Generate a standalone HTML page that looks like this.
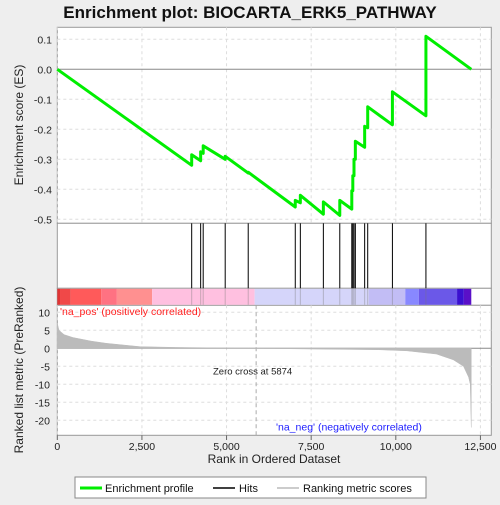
<!DOCTYPE html>
<html><head><meta charset="utf-8"><style>
body{margin:0;background:#eeeeee;font-family:"Liberation Sans",sans-serif}
svg text{font-family:"Liberation Sans",sans-serif}
</style></head><body>
<svg id="c" width="500" height="500" xmlns="http://www.w3.org/2000/svg">
<rect x="0" y="0" width="500" height="500" fill="#eeeeee"/>
<text x="250" y="18" font-size="17" font-weight="bold" text-anchor="middle" fill="#111">Enrichment plot: BIOCARTA_ERK5_PATHWAY</text>
<rect x="57.3" y="27.3" width="434" height="196" fill="#fff" stroke="#999"/>
<rect x="57.3" y="223.3" width="434" height="65" fill="#fff" stroke="#999"/>
<rect x="57.3" y="288.3" width="434" height="17" fill="#fff" stroke="#999"/>
<rect x="57.3" y="305.3" width="434" height="130" fill="#fff" stroke="#999"/>
<g id="grid"></g><g id="band"></g><g id="metric"></g><g id="hits"></g><g id="es"></g><g id="axes"></g>
<text x="60" y="315" font-size="10.5" fill="#ff2020">'na_pos' (positively correlated)</text>
<text x="276" y="430.5" font-size="10.5" fill="#2020ff">'na_neg' (negatively correlated)</text>
<text x="213" y="374.5" font-size="9.5" fill="#222">Zero cross at 5874</text>
<text x="274" y="463" font-size="12" text-anchor="middle" fill="#222">Rank in Ordered Dataset</text>
<text transform="translate(23,125) rotate(-90)" font-size="12" text-anchor="middle" fill="#222">Enrichment score (ES)</text>
<text transform="translate(23,370) rotate(-90)" font-size="12" text-anchor="middle" fill="#222">Ranked list metric (PreRanked)</text>
<g>
<rect x="75" y="477" width="351" height="21" fill="#fff" stroke="#888"/>
<line x1="80" y1="488" x2="102" y2="488" stroke="#00ee00" stroke-width="3"/>
<text x="105" y="492" font-size="11" fill="#111">Enrichment profile</text>
<line x1="213" y1="488" x2="235" y2="488" stroke="#000" stroke-width="1.5"/>
<text x="239" y="492" font-size="11" fill="#111">Hits</text>
<line x1="277" y1="488" x2="299" y2="488" stroke="#bbb" stroke-width="1.5"/>
<text x="303" y="492" font-size="11" fill="#111">Ranking metric scores</text>
</g>
</svg>
<script>
const hitRanks=[3970,4235,4310,4960,5640,7030,7180,7860,8345,8700,8730,8765,8805,9080,9170,9900,10890];
const esBefore=[-0.32,-0.305,-0.28,-0.30,-0.346,-0.459,-0.445,-0.483,-0.487,-0.466,-0.405,-0.355,-0.30,-0.26,-0.195,-0.185,-0.155];
const esAfter=[-0.285,-0.275,-0.255,-0.29,-0.343,-0.437,-0.42,-0.442,-0.437,-0.405,-0.355,-0.30,-0.24,-0.19,-0.125,-0.075,0.11];
const totalRanks=12230;
const metricRanks=[0,50,200,460,1000,1440,2450,3500,5874,7500,9500,10330,11200,11700,12000,12150,12200,12229];
const metricValues=[7,5,3.8,3,2,1.4,0.45,0.25,0,-0.2,-0.4,-0.7,-1.6,-3.2,-5,-8,-10,-22];
const xTicks=[0,2500,5000,7500,10000,12500];
const esTicks=[0.1,0.0,-0.1,-0.2,-0.3,-0.4,-0.5];
const metricTicks=[10,5,0,-5,-10,-15,-20];
const bandRanks=[0,80,400,1300,1760,2800,5830,9200,10280,10680,11810,12010,12230];
const bandColors=["#e03535","#f04848","#ff5a5a","#ff7282","#ff9090","#ffc0e0","#d5d5fa","#c2bdf5","#8888ff","#6b58e8","#3a10d0","#5a10c8"];
const X=r=>57.3+r*0.03385, YE=v=>69.3-v*300, YM=v=>348.3-v*3.6;
const NS="http://www.w3.org/2000/svg";
function mk(p,t,a){const e=document.createElementNS(NS,t);for(const k in a)e.setAttribute(k,a[k]);document.getElementById(p).appendChild(e);return e;}
xTicks.forEach(t=>{const x=X(t);
 let g=mk('grid','line',{x1:x,x2:x,y1:27.3,y2:223.3,stroke:'#ddd','stroke-dasharray':'3,3'});
 
 g=mk('grid','line',{x1:x,x2:x,y1:305.3,y2:435.3,stroke:'#ddd','stroke-dasharray':'3,3'});
 
 const tk=mk('axes','line',{x1:x,x2:x,y1:435.3,y2:440,stroke:'#666'});
 
 const tl=mk('axes','text',{x:x,y:450,'font-size':'10.5','text-anchor':'middle',fill:'#222'});tl.textContent=t.toLocaleString('en-US');
 });
esTicks.forEach(t=>{const y=YE(t);
 const g=mk('grid','line',{x1:57.3,x2:491.3,y1:y,y2:y,stroke:t===0?'#888':'#ddd','stroke-dasharray':t===0?'':'3,3'});
 
 const tl=mk('axes','text',{x:52,y:y+4,'font-size':'10.5','text-anchor':'end',fill:'#222'});tl.textContent=t.toFixed(1);
 });
metricTicks.forEach(t=>{const y=YM(t);
 const g=mk('grid','line',{x1:57.3,x2:491.3,y1:y,y2:y,stroke:t===0?'#888':'#ddd','stroke-dasharray':t===0?'':'3,3'});
 
 const tl=mk('axes','text',{x:50,y:y+4,'font-size':'10.5','text-anchor':'end',fill:'#222'});tl.textContent=String(t);
 });
const zc=mk('grid','line',{x1:X(5874),x2:X(5874),y1:305.3,y2:435.3,stroke:'#aaa','stroke-dasharray':'4,3'});

bandColors.forEach((c,i)=>{const r=mk('band','rect',{x:X(bandRanks[i]),y:288.8,width:X(bandRanks[i+1])-X(bandRanks[i]),height:16,fill:c});
 });
let d='M'+X(0)+','+YM(0);
metricRanks.forEach((r,i)=>{d+=' L'+X(r)+','+YM(metricValues[i]);});
d+=' L'+X(totalRanks-1)+','+YM(0)+' Z';
const mp=mk('metric','path',{d:d,fill:'#bbb',stroke:'#bbb','stroke-width':0.5});

hitRanks.forEach(r=>{const x=X(r);
 const l=mk('hits','line',{x1:x,x2:x,y1:223.3,y2:288.3,stroke:'#000','stroke-width':1});
 
 const b=mk('hits','line',{x1:x,x2:x,y1:288.8,y2:304.8,stroke:'rgba(120,120,120,0.4)','stroke-width':1});
 });
let e='M'+X(0)+','+YE(0);
hitRanks.forEach((r,i)=>{e+=' L'+X(r)+','+YE(esBefore[i])+' L'+X(r)+','+YE(esAfter[i]);});
e+=' L'+X(totalRanks)+','+YE(0);
const ep=mk('es','path',{d:e,fill:'none',stroke:'#00ee00','stroke-width':3,'stroke-linejoin':'round'});

</script>
</body></html>
